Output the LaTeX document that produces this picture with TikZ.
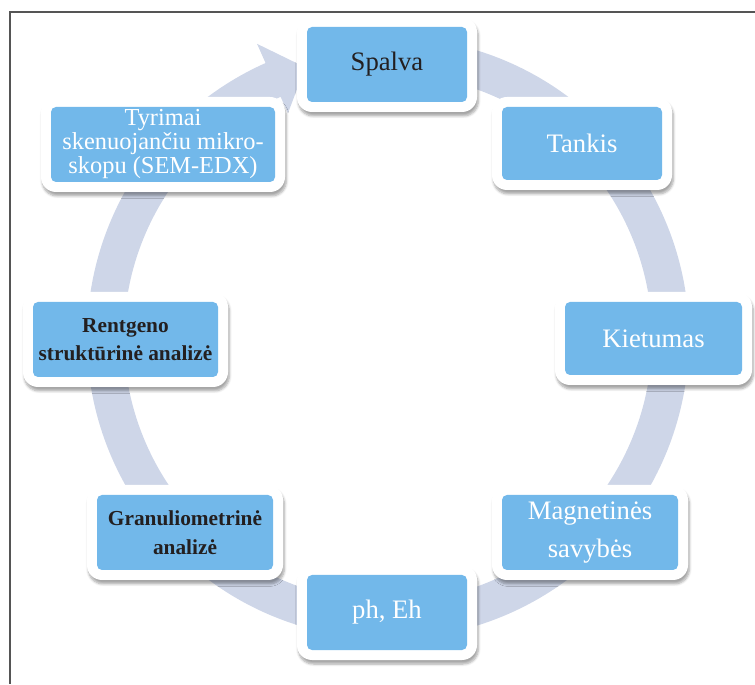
\documentclass[tikz,border=0pt]{standalone}
\usepackage{fontspec}
\setmainfont{Liberation Serif}
\usetikzlibrary{calc,shadows.blur}
\definecolor{boxblue}{RGB}{114,184,234}
\definecolor{ringc}{RGB}{206,214,232}
\definecolor{darktext}{RGB}{35,31,32}
\definecolor{framec}{RGB}{85,85,85}
\newcommand\cyclebox[7]{%
  \node[outerbox, minimum width={(#4+20)*0.75pt}, minimum height={(#5+20)*0.75pt}] (#1-bg) at (#2,#3) {};
  \node[innerbox, minimum width={#4*0.75pt}, minimum height={#5*0.75pt}, #6] (#1) at (#2,#3) {#7};}
\begin{document}
\begin{tikzpicture}[x=0.75pt,y=0.75pt,
  outerbox/.style={fill=white, rounded corners=11.25pt, inner sep=0pt,
    blur shadow={shadow xshift=1pt, shadow yshift=-3pt, shadow opacity=35, shadow blur steps=6}},
  innerbox/.style={fill=boxblue, rounded corners=3.75pt, inner sep=0pt, align=center},
  regw/.style={font=\fontsize{20}{28}\selectfont, text=white},
  regd/.style={font=\fontsize{20}{28}\selectfont, text=darktext},
  smallw/.style={font=\fontsize{18.3}{18}\selectfont, text=white},
  boldd/.style={font=\fontsize{16}{21.5}\selectfont\bfseries, text=darktext},
  framel/.style={draw=framec, line width=1.5pt}]
\useasboundingbox (0,0) rectangle (755,684);
% frame
\coordinate (fTR) at (755,671.5);
\coordinate (fTL) at (9.5,671.5);
\coordinate (fBL) at (9.5,0);
\draw[framel] (fTR) -- (fTL) -- (fBL);
% ring arrow
\coordinate (C) at (388,346);
\fill[ringc] ($(C)+(80:301)$) arc[start angle=80, end angle=-246, radius=225.75pt]
  -- ($(C)+(114:322)$) -- ($(C)+(107:283)$) -- ($(C)+(114:246)$) -- ($(C)+(114:264)$)
  arc[start angle=-246, end angle=80, radius=198pt] -- cycle;
% boxes
\cyclebox{spalva}{387}{619.5}{160}{75}{regd}{Spalva}
\cyclebox{tankis}{582}{540.5}{160}{73}{regw}{Tankis}
\cyclebox{kietumas}{653.5}{345.5}{177}{73}{regw}{Kietumas}
\cyclebox{magnet}{590}{151.5}{176}{75}{regw}{Magnetinės\\savybės}
\cyclebox{ph}{387}{71.5}{160}{75}{regw}{ph, Eh}
\cyclebox{granul}{185}{151.5}{176}{75}{boldd}{Granuliometrinė\\analizė}
\cyclebox{rentgen}{125.5}{344.5}{185}{75}{boldd}{Rentgeno\\struktūrinė analizė}
\cyclebox{tyrimai}{163}{539.5}{224}{75}{smallw}{Tyrimai\\skenuojančiu mikro-\\skopu (SEM-EDX)}
\end{tikzpicture}
\end{document}
